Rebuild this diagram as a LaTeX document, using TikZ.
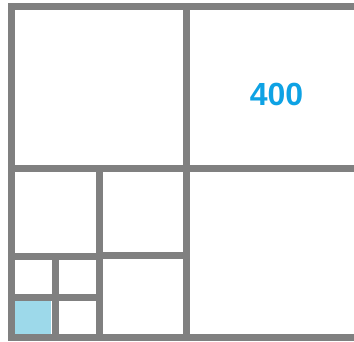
\documentclass[tikz,border=0pt]{standalone}
\usepackage{fontspec}
\setmainfont{Liberation Sans}
\definecolor{gridgray}{RGB}{128,128,128}
\definecolor{cellblue}{RGB}{157,217,234}
\definecolor{labelblue}{RGB}{14,162,228}
\tikzset{
  gridline/.style={draw=gridgray, line width=7pt, line cap=rect},
  cellfill/.style={fill=cellblue},
  biglabel/.style={text=labelblue, font=\fontsize{32}{36}\selectfont\bfseries, inner sep=0pt}
}
\begin{document}
\begin{tikzpicture}[x=1pt,y=-1pt]
\fill[white] (0,0) rectangle (354,341);
\useasboundingbox (0,0) rectangle (354,341);
% highlighted cell
\fill[cellfill] (15,301) rectangle (51,334);
% outer frame (open to the right)
\draw[gridline] (360,6.5) -- (11.5,6.5) -- (11.5,337.5) -- (360,337.5);
% main cross
\draw[gridline] (186.5,6.5) -- (186.5,337.5);
\draw[gridline] (11.5,168.5) -- (360,168.5);
% lower-left quadrant
\draw[gridline] (99.5,168.5) -- (99.5,337.5);
\draw[gridline] (11.5,256.5) -- (99.5,256.5);
\draw[gridline] (99.5,255.5) -- (186.5,255.5);
% lower-left sub-quadrant
\draw[gridline] (55,256.5) -- (55,337.5);
\draw[gridline] (11.5,297.5) -- (99.5,297.5);
\node[biglabel] (lbl) at (276.5,94) {400};
\end{tikzpicture}
\end{document}
